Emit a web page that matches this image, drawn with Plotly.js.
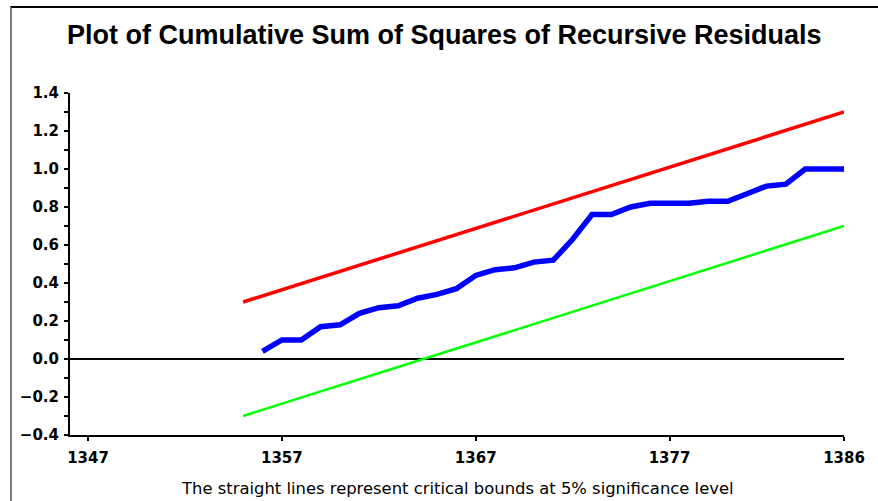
<!DOCTYPE html>
<html>
<head>
<meta charset="utf-8">
<script src="https://cdn.plot.ly/plotly-3.0.1.min.js"></script>
<style>
  html, body { margin: 0; padding: 0; background: #fff; }
  #wrap { position: relative; width: 878px; height: 501px; }
  #chart { width: 878px; height: 501px; }
  #frame { position: absolute; left: 10px; top: 6px; right: 0; bottom: 0;
           border-top: 2px solid #000; border-left: 2px solid #7a7a7a; pointer-events: none; }
</style>
</head>
<body>
<div id="wrap">
  <div id="chart"></div>
  <div id="frame"></div>
</div>
<script>
// Recursive residual CUSUM of squares, years 1356..1386
const years = [1356,1357,1358,1359,1360,1361,1362,1363,1364,1365,1366,1367,1368,1369,1370,1371,
               1372,1373,1374,1375,1376,1377,1378,1379,1380,1381,1382,1383,1384,1385,1386];
const cusumsq = [0.04,0.10,0.10,0.17,0.18,0.24,0.27,0.28,0.32,0.34,0.37,0.44,0.47,0.48,0.51,0.52,
                 0.63,0.76,0.76,0.80,0.82,0.82,0.82,0.83,0.83,0.87,0.91,0.92,1.00,1.00,1.00];
// Critical bounds (straight lines) endpoints
const boundYears = [1355, 1386];
const upperBound = [0.30, 1.30];
const lowerBound = [-0.30, 0.70];
// Axis ticks
const xTickVals = [1347, 1357, 1367, 1377, 1386];
const xTickText = ['1347', '1357', '1367', '1377', '1386'];

const titleFont = 'Liberation Sans, Arial, sans-serif';
const tickFont = 'DejaVu Sans, sans-serif';

const traces = [
  { x: boundYears, y: upperBound, mode: 'lines', line: { color: '#ff0000', width: 3.5 }, hoverinfo: 'skip' },
  { x: boundYears, y: lowerBound, mode: 'lines', line: { color: '#00ff00', width: 2.5 }, hoverinfo: 'skip' },
  { x: years, y: cusumsq, mode: 'lines', line: { color: '#0000ff', width: 5.5 }, hoverinfo: 'skip' }
];

const xr = [1346.07, 1386];
const yr = [-0.4, 1.4];

const layout = {
  width: 878, height: 501,
  margin: { l: 70, r: 34, t: 93, b: 66 },
  paper_bgcolor: '#fff', plot_bgcolor: '#fff',
  showlegend: false,
  title: { text: '<b>Plot of Cumulative Sum of Squares of Recursive Residuals</b>',
           font: { family: titleFont, size: 27, color: '#000' },
           x: 0.506, xanchor: 'center', y: 0.932, yanchor: 'middle' },
  xaxis: {
    range: xr, showgrid: false, zeroline: false,
    showline: true, linecolor: '#000', linewidth: 2,
    tickmode: 'array', tickvals: xTickVals, ticktext: xTickText,
    ticks: 'outside', ticklen: 4, tickwidth: 2, tickcolor: '#000',
    tickfont: { family: tickFont, size: 15, color: '#000', weight: 'bold' },
    ticklabelstandoff: 4
  },
  xaxis2: {
    overlaying: 'x', range: xr, showgrid: false, zeroline: false, showline: false,
    tickmode: 'array', tickvals: xTickVals, showticklabels: false,
    ticks: 'inside', ticklen: 4, tickwidth: 2, tickcolor: '#000'
  },
  yaxis: {
    range: yr, showgrid: false,
    zeroline: true, zerolinecolor: '#000', zerolinewidth: 2,
    showline: true, linecolor: '#000', linewidth: 2,
    tickmode: 'linear', tick0: -0.4, dtick: 0.2, tickformat: '.1f',
    ticks: 'outside', ticklen: 4, tickwidth: 2, tickcolor: '#000',
    minor: { dtick: 0.1, tick0: -0.4, ticks: 'outside', ticklen: 4, tickwidth: 2, tickcolor: '#000', showgrid: false },
    tickfont: { family: tickFont, size: 15, color: '#000', weight: 'bold' },
    ticklabelstandoff: 2
  },
  yaxis2: {
    overlaying: 'y', range: yr, showgrid: false, zeroline: false, showline: false,
    tickmode: 'linear', tick0: -0.4, dtick: 0.1, showticklabels: false,
    ticks: 'inside', ticklen: 4, tickwidth: 2, tickcolor: '#000'
  },
  annotations: [{
    text: 'The straight lines represent critical bounds at 5% significance level',
    xref: 'paper', yref: 'paper', x: 0.501, y: -0.155, xanchor: 'center', yanchor: 'middle',
    showarrow: false, font: { family: tickFont, size: 16.4, color: '#000' }
  }]
};

Plotly.newPlot('chart', traces, layout, { staticPlot: true, displayModeBar: false });
</script>
</body>
</html>
